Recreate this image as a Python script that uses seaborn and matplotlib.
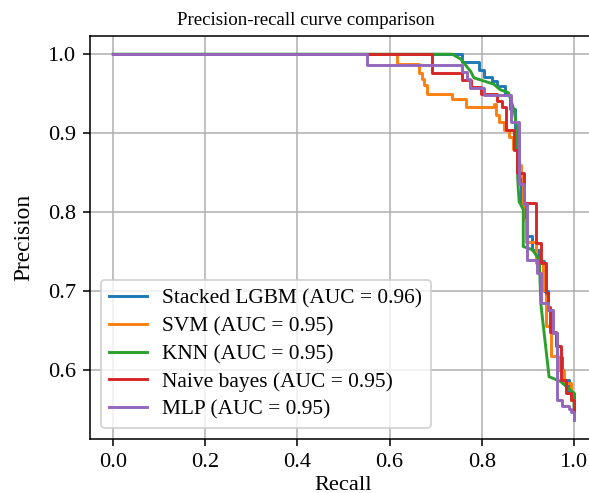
import matplotlib

matplotlib.use("Agg")
import matplotlib.pyplot as plt
import seaborn as sns

# Step curves: (recall where precision changes, precision after the change)
lgbm_recall = [0.0, 0.758, 0.794, 0.805, 0.823, 0.834, 0.850, 0.862, 0.872, 0.880,
               0.886, 0.896, 0.910, 0.925, 0.935, 0.943, 0.950, 0.964, 0.975, 0.990, 1.0]
lgbm_precision = [1.0, 0.990, 0.980, 0.971, 0.966, 0.960, 0.948, 0.930, 0.905, 0.850,
                  0.810, 0.770, 0.752, 0.738, 0.700, 0.676, 0.646, 0.616, 0.587, 0.570, 0.548]

svm_recall = [0.0, 0.617, 0.664, 0.671, 0.675, 0.682, 0.736, 0.765, 0.826, 0.830, 0.838,
              0.848, 0.858, 0.868, 0.877, 0.885, 0.890, 0.896, 0.917, 0.932, 0.939,
              0.950, 0.965, 0.979, 0.993, 1.0]
svm_precision = [1.0, 0.987, 0.976, 0.969, 0.961, 0.950, 0.943, 0.933, 0.937, 0.923, 0.914,
                 0.904, 0.895, 0.880, 0.860, 0.845, 0.790, 0.762, 0.735, 0.701, 0.655,
                 0.617, 0.600, 0.583, 0.562, 0.545]

nb_recall = [0.0, 0.693, 0.758, 0.776, 0.798, 0.834, 0.844, 0.852, 0.870, 0.877, 0.891,
             0.917, 0.928, 0.939, 0.944, 0.949, 0.960, 0.972, 0.983, 0.993, 1.0]
nb_precision = [1.0, 0.976, 0.967, 0.959, 0.950, 0.940, 0.933, 0.904, 0.878, 0.849, 0.811,
                0.760, 0.735, 0.697, 0.680, 0.648, 0.630, 0.587, 0.570, 0.561, 0.548]

mlp_recall = [0.0, 0.551, 0.758, 0.768, 0.775, 0.805, 0.863, 0.881, 0.892, 0.899, 0.919,
              0.928, 0.943, 0.954, 0.964, 0.975, 0.990, 0.993, 1.0]
mlp_precision = [1.0, 0.986, 0.978, 0.968, 0.957, 0.948, 0.914, 0.836, 0.810, 0.739, 0.722,
                 0.684, 0.676, 0.646, 0.562, 0.554, 0.550, 0.546, 0.536]

# KNN has few distinct scores, so its curve is a plain polyline
knn_recall = [0.0, 0.736, 0.754, 0.765, 0.776, 0.783, 0.826, 0.840, 0.858, 0.870, 0.877,
              0.878, 0.881, 0.890, 0.890, 0.910, 0.925, 0.928, 0.946, 0.971, 1.0, 1.0]
knn_precision = [1.0, 1.0, 0.994, 0.986, 0.978, 0.970, 0.962, 0.955, 0.951, 0.929, 0.904,
                 0.840, 0.813, 0.803, 0.756, 0.752, 0.739, 0.684, 0.591, 0.585, 0.570, 0.549]

labels = [
    "Stacked LGBM (AUC = 0.96)",
    "SVM (AUC = 0.95)",
    "KNN (AUC = 0.95)",
    "Naive bayes (AUC = 0.95)",
    "MLP (AUC = 0.95)",
]

plt.rcParams["font.family"] = ["Liberation Serif", "DejaVu Serif"]

fig = plt.figure(figsize=(589 / 140, 493 / 140), dpi=140)
ax = fig.add_axes([0.1528, 0.1095, 0.8608, 0.8174])

curves = [
    (lgbm_recall, lgbm_precision, "tab:blue", "steps-post"),
    (svm_recall, svm_precision, "tab:orange", "steps-post"),
    (knn_recall, knn_precision, "tab:green", "default"),
    (nb_recall, nb_precision, "tab:red", "steps-post"),
    (mlp_recall, mlp_precision, "tab:purple", "steps-post"),
]
for (rec, prec, color, ds), label in zip(curves, labels):
    sns.lineplot(x=rec, y=prec, sort=False, estimator=None, color=color,
                 drawstyle=ds, linewidth=1.5, label=label, ax=ax)

ax.set_xlim(-0.05, 1.05)
ax.set_ylim(0.512, 1.023)
ax.set_xticks([0.0, 0.2, 0.4, 0.6, 0.8, 1.0])
ax.set_yticks([0.6, 0.7, 0.8, 0.9, 1.0])
ax.tick_params(labelsize=11.5)
ax.grid(True)
ax.set_xlabel("Recall", fontsize=11.5, labelpad=2)
ax.set_ylabel("Precision", fontsize=12, labelpad=7)
ax.legend(loc="lower left", fontsize=11, labelspacing=0.37,
          handlelength=1.78, handletextpad=0.7)
fig.suptitle("Precision-recall curve comparison", x=0.52, y=0.975, va="top", fontsize=9.7)

plt.savefig("out.png", dpi=140)
plt.close()
